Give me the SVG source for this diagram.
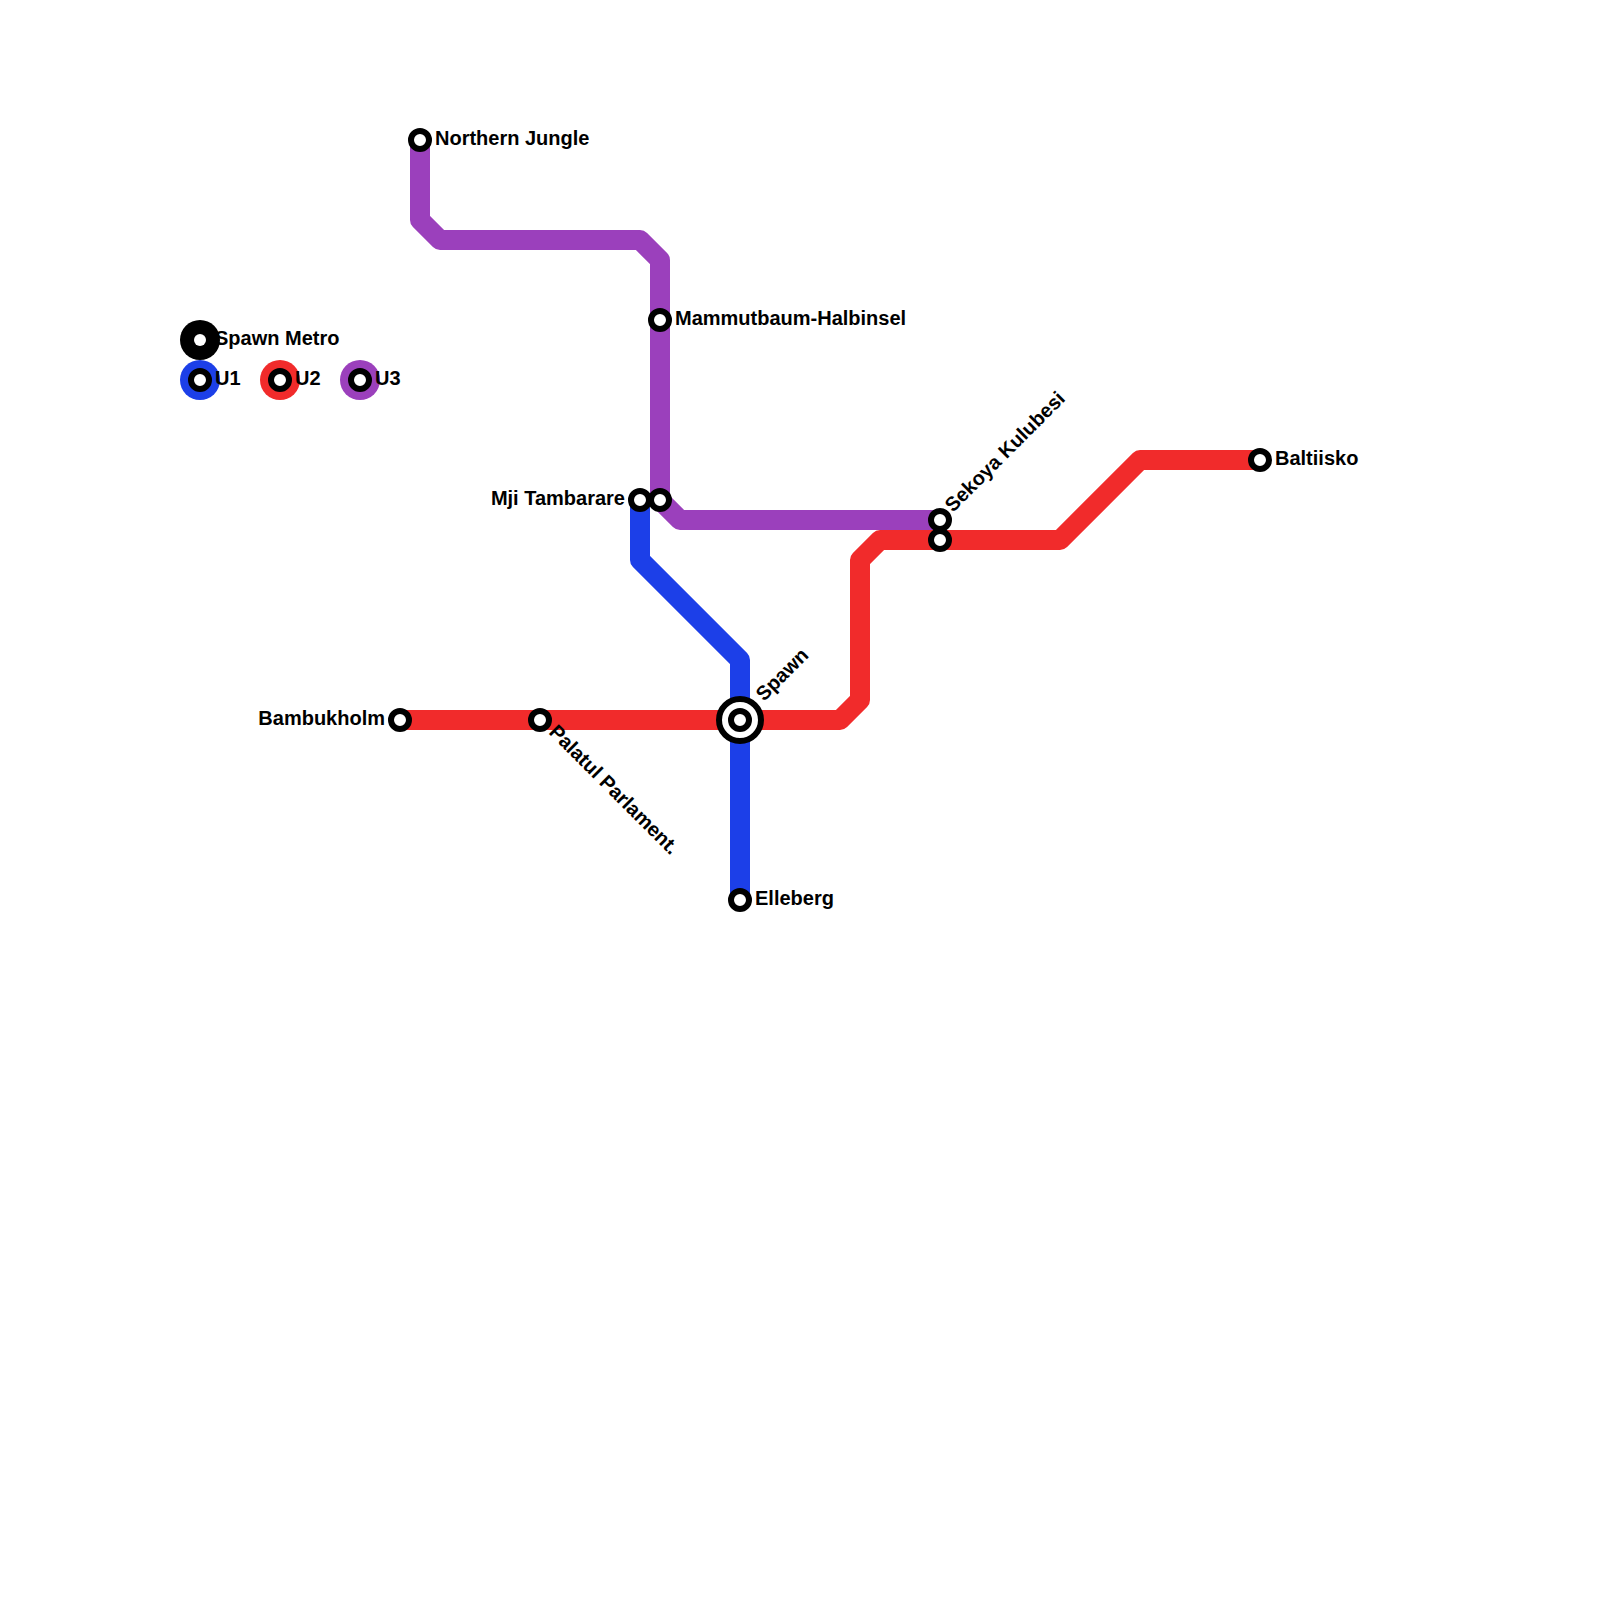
<svg xmlns="http://www.w3.org/2000/svg" width="1600" height="1600" viewBox="0 0 1600 1600">
<style>
.line{fill:none;stroke-width:20;stroke-linejoin:round}
.u1{stroke:#1c3fe8}.u2{stroke:#f12b2b}.u3{stroke:#9b40bc}
.st{fill:#fff;stroke:#000;stroke-width:6}
text{font-family:"Liberation Sans",Arial,sans-serif;font-weight:700;font-size:20px;fill:#000}
.e{text-anchor:end}
</style>
<rect width="1600" height="1600" fill="#fff"/>
<g id="connectors">
<polyline id="line-u3" class="line u3" points="420,140 420,220 440,240 640,240 660,260 660,500 680,520 940,520"/>
<polyline id="line-u1" class="line u1" points="640,500 640,560 740,660 740,900"/>
<polyline id="line-u2" class="line u2" points="400,720 840,720 860,700 860,560 880,540 1060,540 1140,460 1260,460"/>
</g>
<g id="legend-metro"><circle cx="200" cy="340" r="20" fill="#000"/><circle cx="200" cy="340" r="6" fill="#fff"/><text x="215" y="345">Spawn Metro</text></g>
<g id="legend-u1"><circle cx="200" cy="380" r="20" fill="#1c3fe8"/><circle class="st" cx="200" cy="380" r="9"/><text x="215" y="385">U1</text></g>
<g id="legend-u2"><circle cx="280" cy="380" r="20" fill="#f12b2b"/><circle class="st" cx="280" cy="380" r="9"/><text x="295" y="385">U2</text></g>
<g id="legend-u3"><circle cx="360" cy="380" r="20" fill="#9b40bc"/><circle class="st" cx="360" cy="380" r="9"/><text x="375" y="385">U3</text></g>
<g id="st-northern-jungle"><circle class="st" cx="420" cy="140" r="9"/><text x="435" y="145">Northern Jungle</text></g>
<g id="st-mammutbaum"><circle class="st" cx="660" cy="320" r="9"/><text x="675" y="325">Mammutbaum-Halbinsel</text></g>
<g id="st-mji-tambarare"><circle class="st" cx="640" cy="500" r="9"/><text class="e" x="625" y="505">Mji Tambarare</text></g>
<g id="st-mji-tambarare-2"><circle class="st" cx="660" cy="500" r="9"/></g>
<g id="st-sekoya"><circle class="st" cx="940" cy="520" r="9"/><text transform="translate(953,513) rotate(-45)">Sekoya Kulubesi</text></g>
<g id="st-sekoya-2"><circle class="st" cx="940" cy="540" r="9"/></g>
<g id="st-baltiisko"><circle class="st" cx="1260" cy="460" r="9"/><text x="1275" y="465">Baltiisko</text></g>
<g id="st-bambukholm"><circle class="st" cx="400" cy="720" r="9"/><text class="e" x="385" y="725">Bambukholm</text></g>
<g id="st-palatul"><circle class="st" cx="540" cy="720" r="9"/><text transform="translate(548,733) rotate(45)">Palatul Parlament.</text></g>
<g id="st-spawn"><circle class="st" cx="740" cy="720" r="21"/><circle class="st" cx="740" cy="720" r="9"/><text transform="translate(764,702) rotate(-45)">Spawn</text></g>
<g id="st-elleberg"><circle class="st" cx="740" cy="900" r="9"/><text x="755" y="905">Elleberg</text></g>
</svg>
